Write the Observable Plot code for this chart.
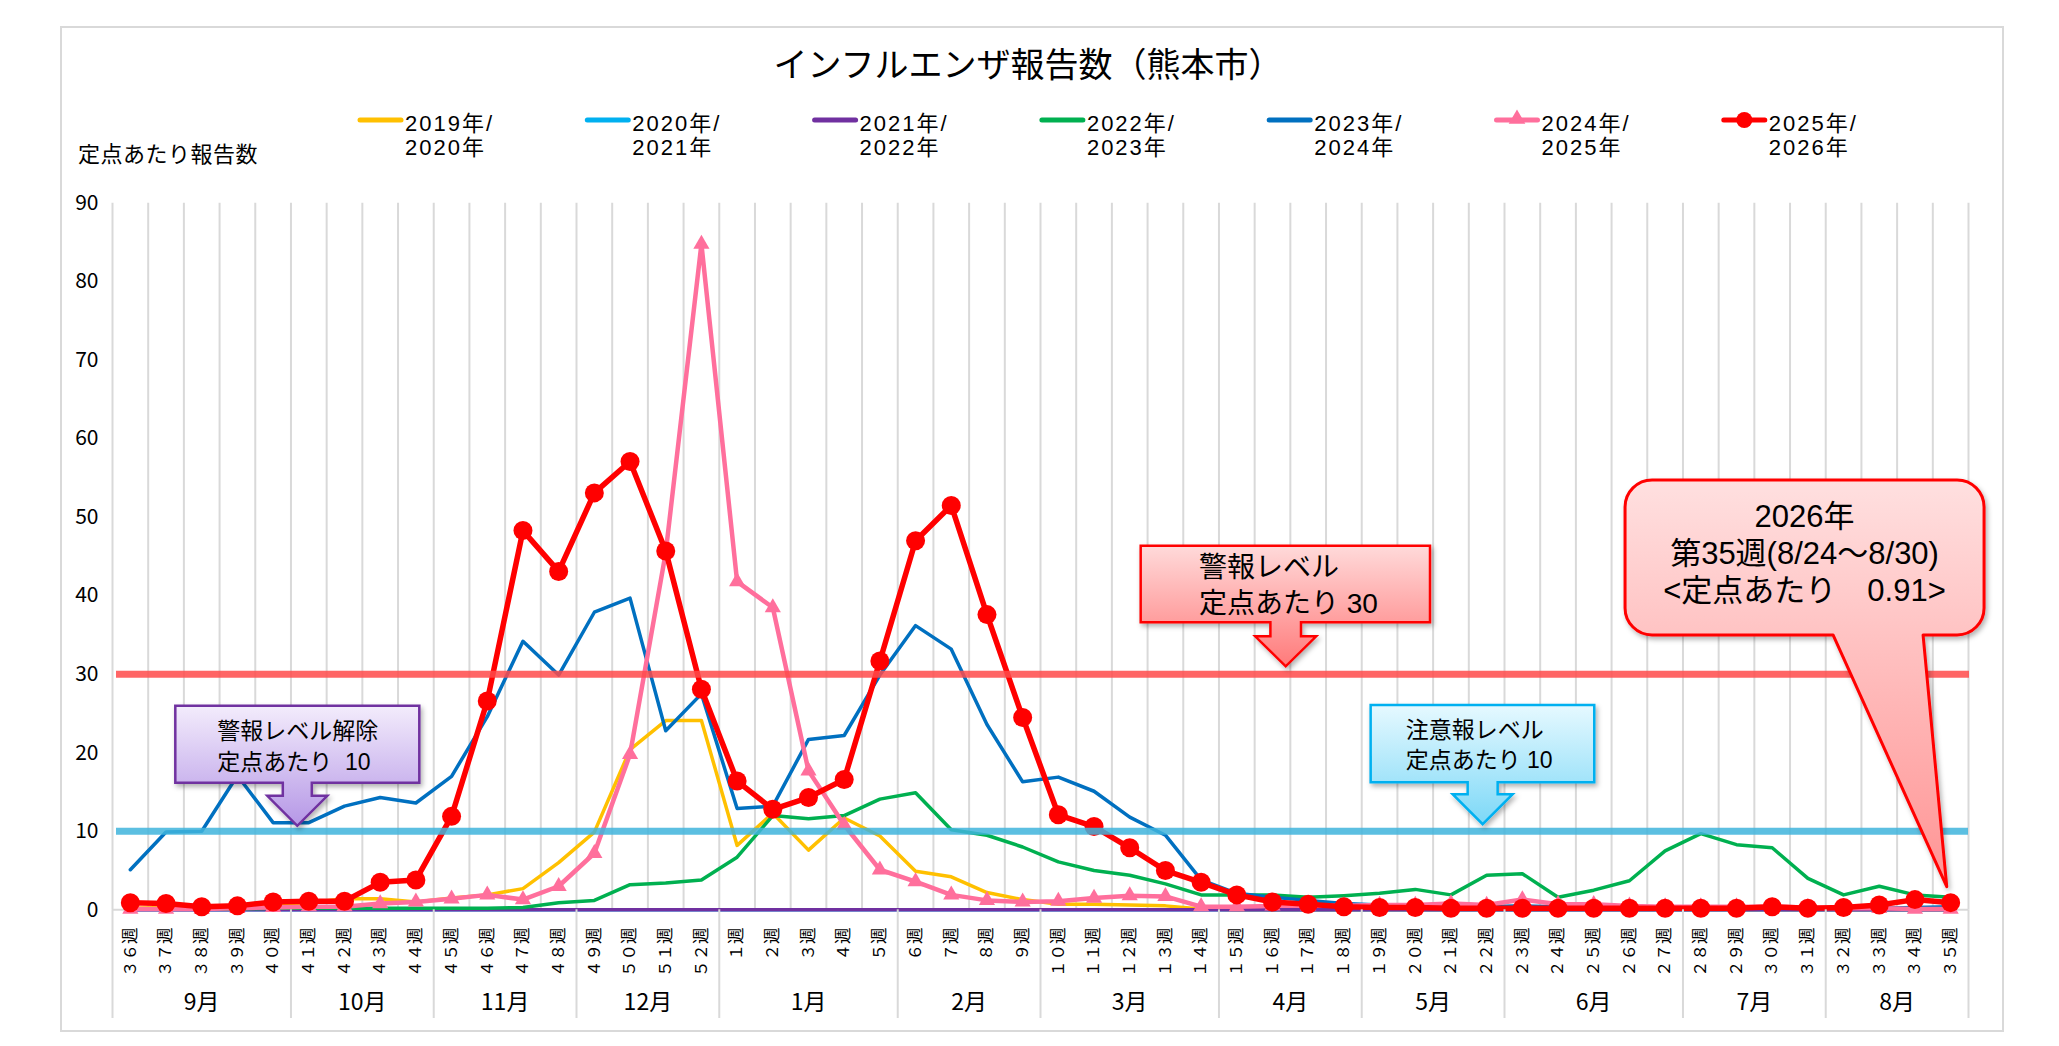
<!DOCTYPE html>
<html><head><meta charset="utf-8">
<script src="https://cdn.jsdelivr.net/npm/d3@7"></script>
<script src="https://cdn.jsdelivr.net/npm/@observablehq/plot@0.6"></script>
<style>
html,body{margin:0;padding:0;background:#fff;}
body{font-family:"Noto Sans CJK JP","Noto Sans",sans-serif;color:#000;}
#wrap{position:relative;width:2059px;height:1046px;overflow:hidden;}
#frame{position:absolute;left:60px;top:26px;width:1940px;height:1002px;border:2px solid #d9d9d9;}
#title{position:absolute;left:0;width:2056px;top:42px;text-align:center;font-size:34px;line-height:42px;}
#ylabel{position:absolute;left:78px;top:138px;font-size:22px;line-height:28px;letter-spacing:0.5px;}
#legendKeys{position:absolute;left:0;top:100px;}
.lgtext{position:absolute;font-family:"Liberation Sans","Noto Sans CJK JP",sans-serif;font-size:22px;line-height:24.7px;letter-spacing:2px;white-space:nowrap;}
#chart{position:absolute;left:0;top:180px;}
</style></head>
<body>
<div id="wrap">
  <div id="frame"></div>
  <div id="title">インフルエンザ報告数（熊本市）</div>
  <div id="ylabel">定点あたり報告数</div>
  <div id="legendKeys"></div>
  <div id="chart"></div>
</div>
<script>
// ---- categories ----
const weeks = ["３６週","３７週","３８週","３９週","４０週","４１週","４２週","４３週","４４週","４５週","４６週","４７週","４８週","４９週","５０週","５１週","５２週",
  "１週","２週","３週","４週","５週","６週","７週","８週","９週","１０週","１１週","１２週","１３週","１４週","１５週","１６週","１７週","１８週","１９週","２０週",
  "２１週","２２週","２３週","２４週","２５週","２６週","２７週","２８週","２９週","３０週","３１週","３２週","３３週","３４週","３５週"];
const months = ["9月","10月","11月","12月","1月","2月","3月","4月","5月","6月","7月","8月"];
const monthStartWeeks = ["３６週","４１週","４５週","４９週","１週","６週","１０週","１５週","１９週","２３週","２８週","３２週"];
const monthWeekCounts = [5,4,4,4,5,4,5,4,4,5,4,4];
const yTicks = [0,10,20,30,40,50,60,70,80,90];

// ---- series ----
const seasonTop = ["2019年/","2020年/","2021年/","2022年/","2023年/","2024年/","2025年/"];
const seasonBottom = ["2020年","2021年","2022年","2023年","2024年","2025年","2026年"];
const seasonColors = ["#FFC000","#00B0F0","#7030A0","#00B050","#0070C0","#FF6F9C","#FF0000"];

const v2019_20 = [0.2,0.3,0.3,0.4,0.6,0.9,1.4,1.4,1.0,1.5,1.9,2.7,6.0,9.9,20.4,24.1,24.1,
  8.2,12.3,7.6,11.7,9.4,4.9,4.2,2.2,1.3,0.7,0.7,0.6,0.5,0.1,0,0,0,0,0,0,0,0,0,0,0,0,0,0,0,0,0,0,0,0,0];
const v2020_21 = [0,0,0,0,0,0,0,0,0,0,0,0,0,0,0,0,0,0,0,0,0,0,0,0,0,0,0,0,0,0,0,0,0,0,0,0,0,0,0,0,0,0,0,0,0,0,0,0,0,0,0,0];
const v2021_22 = [0,0,0,0,0,0,0,0,0,0,0,0,0,0,0,0,0,0,0,0,0,0,0,0,0,0,0,0,0,0,0,0,0,0,0,0,0,0,0,0,0,0,0,0,0,0,0,0,0,0,0,0];
const v2022_23 = [0.1,0.1,0.1,0.1,0.2,0.2,0.2,0.2,0.2,0.2,0.2,0.3,0.9,1.2,3.2,3.4,3.8,
  6.7,12.0,11.6,12.0,14.1,14.9,10.2,9.5,8.0,6.1,5.0,4.4,3.3,1.9,1.9,1.9,1.6,1.8,2.1,2.6,1.9,4.4,4.6,1.6,2.5,3.7,7.5,9.7,8.3,7.9,4.0,1.9,3.0,1.9,1.6];
const v2023_24 = [5.1,9.9,10.0,17.1,11.1,11.1,13.2,14.3,13.6,17.0,24.6,34.2,29.9,37.9,39.7,22.8,27.5,
  12.9,13.2,21.7,22.2,29.9,36.2,33.2,23.6,16.3,16.9,15.1,11.8,9.5,3.8,2.1,1.6,1.2,0.8,0.6,0.5,0.5,0.4,0.5,0.4,0.4,0.3,0.3,0.2,0.2,0.2,0.2,0.2,0.2,0.3,0.4];
const v2024_25 = [0.1,0.1,0.1,0.2,0.3,0.4,0.4,0.8,1.0,1.4,1.9,1.3,3.0,7.2,19.8,45.5,84.8,
  41.8,38.5,17.7,10.8,5.1,3.6,1.9,1.2,1.0,1.1,1.5,1.8,1.7,0.4,0.4,0.5,0.5,0.5,0.6,0.6,0.8,0.6,1.3,0.7,0.7,0.5,0.4,0.4,0.4,0.4,0.3,0.2,0.2,0.1,0.1];
const v2025_26 = [0.9,0.8,0.4,0.5,1.0,1.1,1.1,3.5,3.8,11.9,26.6,48.3,43.1,53.1,57.1,45.7,28.1,
  16.4,12.8,14.3,16.6,31.7,47.0,51.5,37.6,24.5,12.1,10.6,7.9,5.0,3.5,1.9,1.0,0.7,0.4,0.3,0.3,0.2,0.2,0.2,0.2,0.2,0.2,0.2,0.2,0.2,0.4,0.2,0.3,0.6,1.3,0.91];
const seriesValues = [v2019_20,v2020_21,v2021_22,v2022_23,v2023_24,v2024_25,v2025_26];
const seriesWidths = [3.5,3.5,3.5,3.5,3.5,4.5,5.5];

const alertLevel = 30, warnLevel = 10;

// ---- layout ----
const W = 2059, H = 860, ML = 112, MR = 91, MT = 22.7, MB = 130.7;
const step = (W - ML - MR) / weeks.length;
const plotH = H - MT - MB;
const rowsOf = vals => weeks.map((w, i) => ({week: w, value: vals[i]}));

const monthRows = months.map((m, i) => {
  const s = weeks.indexOf(monthStartWeeks[i]);
  const n = monthWeekCounts[i];
  return {month: m, start: monthStartWeeks[i], n,
          mid: n % 2 ? weeks[s + (n - 1) / 2] : weeks[s + n / 2 - 1]};
});

const grid = "#d9d9d9";
const lineMarks = seriesValues.map((vals, i) =>
  Plot.line(rowsOf(vals), {x: "week", y: "value", stroke: seasonColors[i], strokeWidth: seriesWidths[i], strokeLinejoin: "round"}));

const chart = Plot.plot({
  width: W, height: H,
  marginLeft: ML, marginRight: MR, marginTop: MT, marginBottom: MB,
  style: {fontFamily: '"Noto Sans CJK JP","Noto Sans",sans-serif', fontSize: "16px", background: "none", color: "#000", overflow: "visible"},
  x: {type: "point", domain: weeks, padding: 0.5, axis: null},
  y: {domain: [0, 90], axis: null},
  marks: [
    Plot.ruleX(weeks, {x: d => d, dx: -step / 2, stroke: grid, strokeWidth: 2}),
    Plot.ruleX([weeks[weeks.length - 1]], {x: d => d, dx: step / 2, stroke: grid, strokeWidth: 2}),
    Plot.ruleY([0], {stroke: grid, strokeWidth: 2}),
    Plot.axisY({ticks: yTicks, tickSize: 0, tickPadding: 14, fontSize: 21, label: null, tickFormat: d => String(d)}),
    ...lineMarks,
    Plot.dot(rowsOf(v2024_25), {x: "week", y: "value", symbol: "triangle", r: 6, fill: seasonColors[5]}),
    Plot.dot(rowsOf(v2025_26), {x: "week", y: "value", r: 9.5, fill: seasonColors[6]}),
    Plot.ruleY([alertLevel], {stroke: "#ff4a4a", strokeOpacity: 0.85, strokeWidth: 7, insetLeft: 4, insetRight: -1}),
    Plot.ruleY([warnLevel], {stroke: "#3fb4dc", strokeOpacity: 0.85, strokeWidth: 7, insetLeft: 4, insetRight: 0}),
    Plot.text(weeks, {x: d => d, text: d => d, frameAnchor: "bottom", dy: 17.7, rotate: -90, textAnchor: "end", lineAnchor: "middle", fontSize: 16.5}),
    Plot.text(monthRows.filter(d => d.n % 2), {x: "mid", text: "month", frameAnchor: "bottom", dy: 100, fontSize: 23}),
    Plot.text(monthRows.filter(d => !(d.n % 2)), {x: "mid", text: "month", frameAnchor: "bottom", dy: 100, dx: step / 2, fontSize: 23}),
    Plot.ruleX(monthRows, {x: "start", dx: -step / 2, insetTop: plotH, insetBottom: -108.7, stroke: grid, strokeWidth: 2}),
    Plot.ruleX([weeks[weeks.length - 1]], {x: d => d, dx: step / 2, insetTop: plotH, insetBottom: -108.7, stroke: grid, strokeWidth: 2})
  ]
});
document.getElementById("chart").appendChild(chart);

// ---- annotations (anchored through the plot's scales) ----
const xs = chart.scale("x"), ys = chart.scale("y");
const svg = d3.select(chart);
const defs = svg.append("defs");
function grad(id, y1, y2, c1, c2) {
  const g = defs.append("linearGradient").attr("id", id).attr("gradientUnits", "userSpaceOnUse")
    .attr("x1", 0).attr("x2", 0).attr("y1", y1).attr("y2", y2);
  g.append("stop").attr("offset", 0).attr("stop-color", c1);
  g.append("stop").attr("offset", 1).attr("stop-color", c2);
}
const flt = defs.append("filter").attr("id", "shadow").attr("x", "-10%").attr("y", "-10%").attr("width", "125%").attr("height", "130%");
flt.append("feDropShadow").attr("dx", 2).attr("dy", 3).attr("stdDeviation", 2.5).attr("flood-color", "#000").attr("flood-opacity", 0.3);

const ann = svg.append("g").attr("text-anchor", "start");
const fontFam = '"Liberation Sans","Noto Sans CJK JP",sans-serif';

function arrowCallout(o) {
  const tx = xs.apply(o.week) + o.dx, ty = ys.apply(o.value) + o.dy;
  const L = tx + o.left, R = tx + o.right, T = ty + o.top, B = ty + o.bottom;
  grad(o.id, T, ty, o.c1, o.c2);
  const p = `M${L},${T}H${R}V${B}H${tx + o.stem}V${ty - o.headLen}H${tx + o.head}L${tx},${ty}L${tx - o.head},${ty - o.headLen}H${tx - o.stem}V${B}H${L}Z`;
  ann.append("path").attr("d", p).attr("fill", `url(#${o.id})`).attr("stroke", o.border).attr("stroke-width", 2.5)
    .attr("stroke-linejoin", "miter").attr("filter", "url(#shadow)");
  o.lines.forEach((t, i) => {
    ann.append("text").attr("x", tx + o.textDx).attr("y", ty + o.lineDy[i]).attr("dominant-baseline", "central")
      .attr("text-anchor", "start")
      .attr("font-size", o.fontSize).attr("font-family", fontFam).attr("fill", "#000")
      .style("white-space", "pre").text(t);
  });
}

arrowCallout({id: "gPurple", week: "４１週", value: warnLevel, dx: -11, dy: -5,
  left: -122, right: 122, top: -120, bottom: -43, stem: 14.5, head: 30, headLen: 30,
  c1: "#f3ecfc", c2: "#b597e6", border: "#7030A0",
  lines: ["警報レベル解除", "定点あたり  10"], textDx: -80, lineDy: [-94.3, -64], fontSize: 23});

arrowCallout({id: "gRed", week: "１６週", value: alertLevel, dx: 13.7, dy: -7.4,
  left: -145, right: 144.3, top: -120.7, bottom: -44, stem: 15.3, head: 30.5, headLen: 30,
  c1: "#ffdada", c2: "#ff7a7a", border: "#FF0000",
  lines: ["警報レベル", "定点あたり 30"], textDx: -86.7, lineDy: [-98.4, -62.7], fontSize: 28});

arrowCallout({id: "gBlue", week: "２２週", value: warnLevel, dx: -3.5, dy: -6.6,
  left: -112, right: 111.6, top: -119.3, bottom: -42, stem: 15, head: 30, headLen: 30,
  c1: "#e6f9ff", c2: "#7cd8f7", border: "#00B0F0",
  lines: ["注意報レベル", "定点あたり 10"], textDx: -77, lineDy: [-94.3, -64.3], fontSize: 23});

// final-week balloon
(function () {
  const lastWeek = weeks[weeks.length - 1], lastVal = v2025_26[v2025_26.length - 1];
  const tx = xs.apply(lastWeek) - 3.4, ty = ys.apply(lastVal) - 15.5;
  const L = tx - 321.7, R = tx + 37.3, T = ty - 406.7, B = ty - 251.7, r = 27;
  const tL = tx - 113.7, tR = tx - 23.7;
  grad("gBig", T, ty, "#ffe0e0", "#ff9494");
  const p = `M${L + r},${T}H${R - r}A${r},${r} 0 0 1 ${R},${T + r}V${B - r}A${r},${r} 0 0 1 ${R - r},${B}` +
            `H${tR}L${tx},${ty}L${tL},${B}H${L + r}A${r},${r} 0 0 1 ${L},${B - r}V${T + r}A${r},${r} 0 0 1 ${L + r},${T}Z`;
  ann.append("path").attr("d", p).attr("fill", "url(#gBig)").attr("stroke", "#FF0000").attr("stroke-width", 3)
    .attr("stroke-linejoin", "round").attr("filter", "url(#shadow)");
  const lines = ["2026年", "第35週(8/24～8/30)", "<定点あたり　0.91>"];
  lines.forEach((t, i) => {
    ann.append("text").attr("x", (L + R) / 2).attr("y", T + 36.7 * (i + 1)).attr("dominant-baseline", "central")
      .attr("text-anchor", "middle").attr("font-size", 31).attr("font-family", fontFam).attr("fill", "#000")
      .style("white-space", "pre").text(t);
  });
})();

// ---- legend ----
const wrap = d3.select("#wrap");
const lg = d3.select("#legendKeys").append("svg").attr("width", W).attr("height", 40).style("overflow", "visible");
seasonTop.forEach((t, i) => {
  const x0 = 360 + 227.3 * i;
  const g = lg.append("g");
  g.append("line").attr("x1", x0).attr("x2", x0 + 41).attr("y1", 20).attr("y2", 20)
    .attr("stroke", seasonColors[i]).attr("stroke-width", 5).attr("stroke-linecap", "round");
  if (i === 5) g.append("path").attr("d", d3.symbol(d3.symbolTriangle, 120)()).attr("transform", `translate(${x0 + 20.5},19)`).attr("fill", seasonColors[i]);
  if (i === 6) g.append("circle").attr("cx", x0 + 20.5).attr("cy", 20).attr("r", 8).attr("fill", seasonColors[i]);
  wrap.append("div").attr("class", "lgtext")
    .style("left", `${x0 + 45}px`).style("top", "111.5px")
    .html(`${t}<br>${seasonBottom[i]}`);
});
</script>
</body></html>
